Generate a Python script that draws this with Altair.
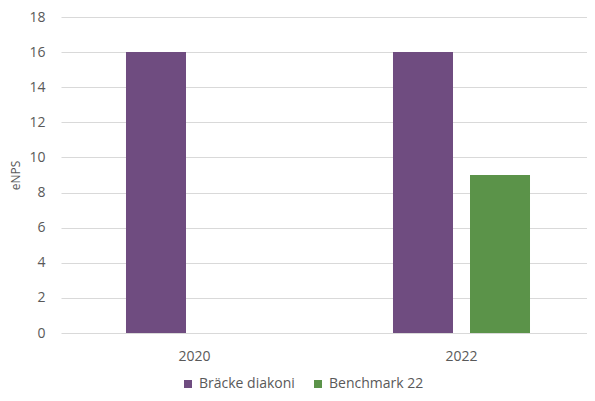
import altair as alt
import pandas as pd

years = ["2020", "2022", "2022"]
series = ["Bräcke diakoni", "Bräcke diakoni", "Benchmark 22"]
values = [16, 16, 9]
series_order = ["Bräcke diakoni", "Benchmark 22"]
year_order = ["2020", "2022"]
y_ticks = [0, 2, 4, 6, 8, 10, 12, 14, 16, 18]
colors = ["#6F4C80", "#5B9349"]

df = pd.DataFrame({"year": years, "series": series, "value": values})

FONT = "Open Sans"
GRAY = "#595959"

chart = alt.Chart(df).mark_bar().encode(
    x=alt.X("year:N", sort=year_order,
            scale=alt.Scale(paddingInner=0, paddingOuter=0, range=[0, 534]),
            axis=alt.Axis(title=None, labelAngle=0, domain=False, ticks=False,
                          labelPadding=16, labelFontSize=14, labelColor=GRAY,
                          labelFont=FONT, grid=False)),
    xOffset=alt.XOffset("series:N", sort=series_order,
                        scale=alt.Scale(paddingInner=0.2208, paddingOuter=0.844)),
    y=alt.Y("value:Q", scale=alt.Scale(domain=[0, 18], nice=False),
            axis=alt.Axis(title="eNPS", values=y_ticks, domain=False,
                          ticks=False, labelPadding=16, labelFontSize=14,
                          labelColor=GRAY, labelFont=FONT, gridColor="#D9D9D9",
                          gridWidth=1, titleFont=FONT, titleFontSize=12,
                          titleFontWeight="normal", titleColor=GRAY, titlePadding=6)),
    color=alt.Color("series:N", sort=series_order,
                    scale=alt.Scale(domain=series_order, range=colors),
                    legend=alt.Legend(title=None, orient="none", direction="horizontal",
                                      legendX=120, legendY=360, symbolType="square",
                                      symbolSize=64, symbolStrokeWidth=0,
                                      labelFontSize=14, labelColor=GRAY, labelFont=FONT,
                                      columnPadding=16, symbolOffset=0, labelOffset=4)),
).properties(
    width=526, height=316,
    autosize=alt.AutoSizeParams(type="none"),
    padding={"left": 53, "top": 9, "right": 0, "bottom": 60},
).configure_view(stroke=None)

chart.save("out.html", embed_options={"renderer": "svg", "actions": False})
